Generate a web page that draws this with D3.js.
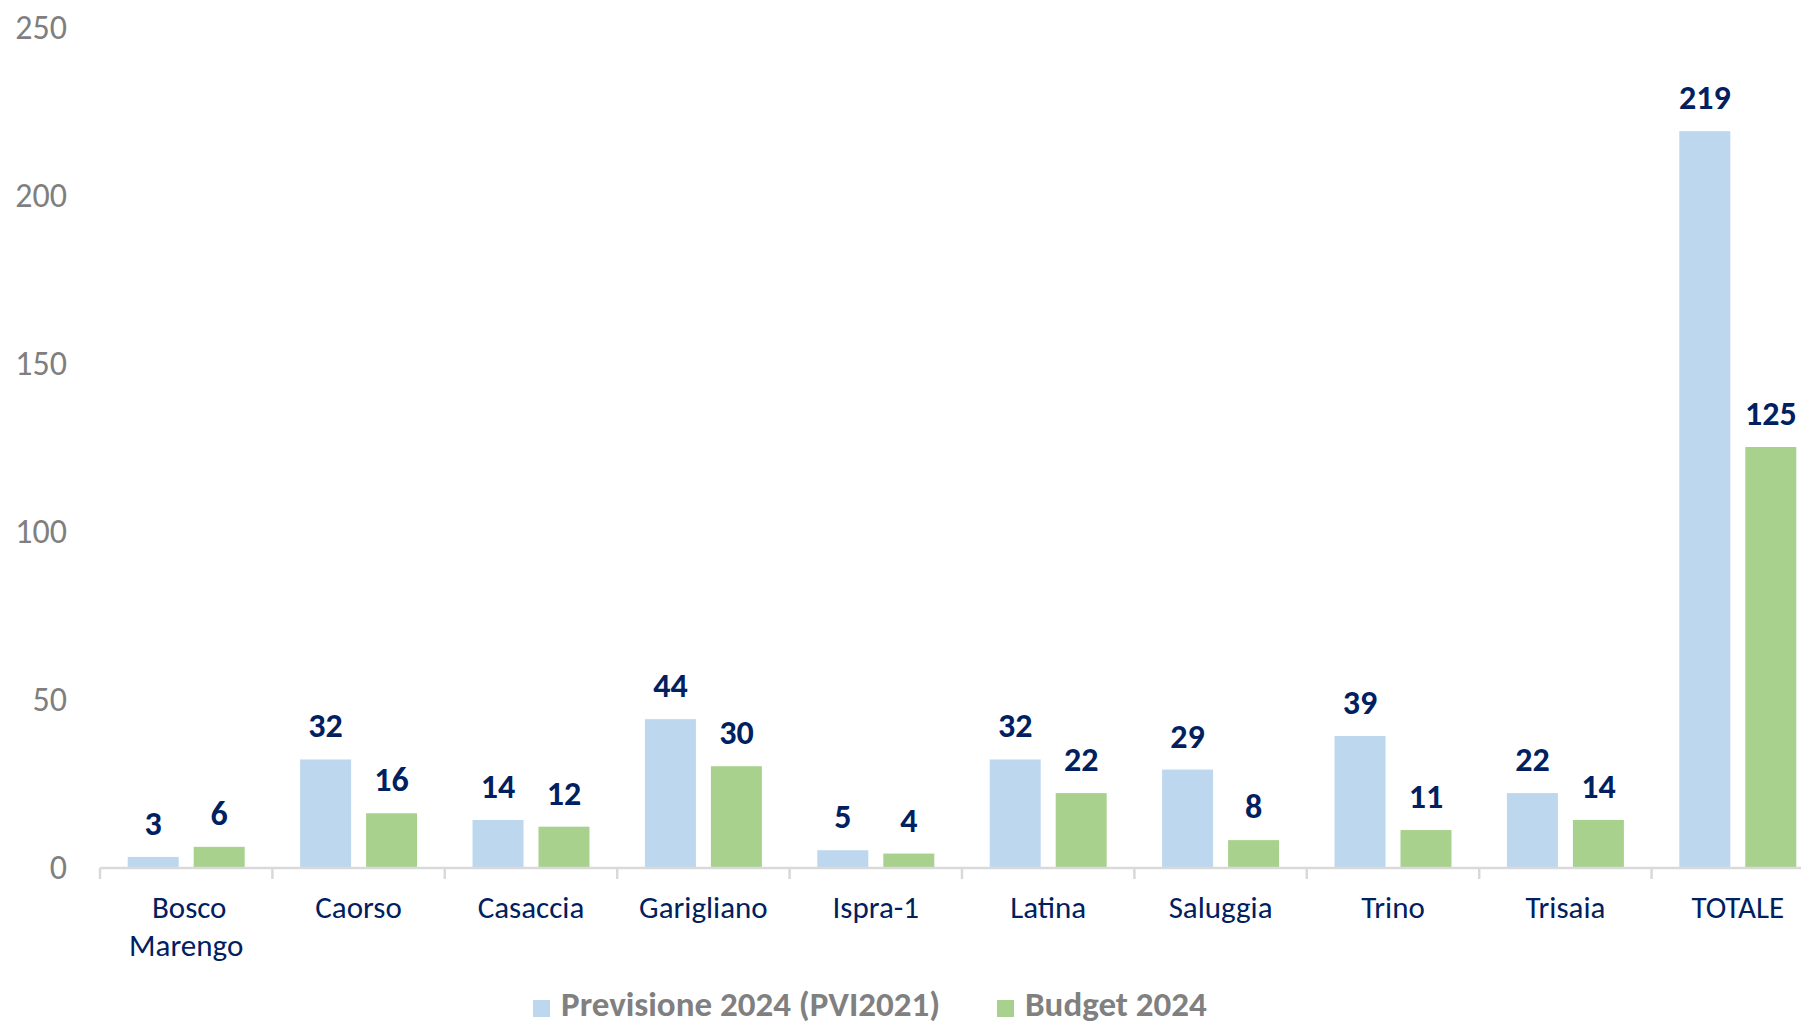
<!DOCTYPE html>
<html>
<head>
<meta charset="utf-8">
<script src="https://cdn.jsdelivr.net/npm/d3@7"></script>
<style>
  html, body { margin: 0; padding: 0; background: #fff; overflow: hidden; }
  svg { display: block; font-family: Carlito, Calibri, Lato, sans-serif; }
</style>
</head>
<body>
<div id="chart"></div>
<script>
var categories = ['Bosco Marengo', 'Caorso', 'Casaccia', 'Garigliano', 'Ispra-1', 'Latina', 'Saluggia', 'Trino', 'Trisaia', 'TOTALE'];
var previsione = [3, 32, 14, 44, 5, 32, 29, 39, 22, 219];
var budget = [6, 16, 12, 30, 4, 22, 8, 11, 14, 125];
var seriesNames = ['Previsione 2024 (PVI2021)', 'Budget 2024'];
var yTicks = [0, 50, 100, 150, 200, 250];

var width = 1801, height = 1025;
var colors = ['#bdd7ee', '#a9d18e'];
var navy = '#002060';

var svg = d3.select('#chart').append('svg')
    .attr('width', width)
    .attr('height', height);

// plot runs off the right edge like the original
var x = d3.scaleBand()
    .domain(categories)
    .range([100, 100 + 172.4 * categories.length])
    .paddingInner(0)
    .paddingOuter(0);

var xSub = d3.scaleBand()
    .domain([0, 1])
    .range([0, x.bandwidth()])
    .paddingInner(0.227)
    .paddingOuter(0.42);

var y = d3.scaleLinear()
    .domain([0, 250])
    .range([867, 27]);

// y tick labels (no axis line)
svg.append('g')
    .selectAll('text')
    .data(yTicks)
    .enter().append('text')
    .attr('x', 67)
    .attr('y', function (d) { return y(d); })
    .attr('dy', '0.35em')
    .attr('text-anchor', 'end')
    .attr('font-size', '34px')
    .attr('fill', '#7f7f7f')
    .text(function (d) { return d; });

// bars
var groups = svg.append('g').selectAll('g')
    .data(categories)
    .enter().append('g')
    .attr('transform', function (d) { return 'translate(' + x(d) + ',0)'; });

[previsione, budget].forEach(function (series, s) {
    groups.append('rect')
        .attr('x', xSub(s))
        .attr('width', xSub.bandwidth())
        .attr('y', function (d, i) { return y(series[i]); })
        .attr('height', function (d, i) { return y(0) - y(series[i]); })
        .attr('fill', colors[s]);

    groups.append('text')
        .attr('x', xSub(s) + xSub.bandwidth() / 2)
        .attr('y', function (d, i) { return y(series[i]) - 22; })
        .attr('text-anchor', 'middle')
        .attr('font-size', '34px')
        .attr('font-weight', 'bold')
        .attr('fill', navy)
        .text(function (d, i) { return series[i]; });
});

// x axis
var xAxis = svg.append('g');
xAxis.append('line')
    .attr('x1', x.range()[0]).attr('x2', x.range()[1])
    .attr('y1', 868).attr('y2', 868)
    .attr('stroke', '#d9d9d9')
    .attr('stroke-width', 2.5);

xAxis.selectAll('.tick')
    .data(categories.concat(['end']))
    .enter().append('line')
    .attr('x1', function (d, i) { return x.range()[0] + i * x.step(); })
    .attr('x2', function (d, i) { return x.range()[0] + i * x.step(); })
    .attr('y1', 868).attr('y2', 879)
    .attr('stroke', '#d9d9d9')
    .attr('stroke-width', 2.5);

// category labels, wrap on space for the long one
xAxis.selectAll('.cat')
    .data(categories)
    .enter().append('text')
    .attr('class', 'cat')
    .attr('text-anchor', 'middle')
    .attr('font-size', '31px')
    .attr('fill', navy)
    .each(function (d) {
        var lines = d === 'Bosco Marengo' ? ['Bosco', 'Marengo'] : [d];
        var t = d3.select(this);
        lines.forEach(function (l, k) {
            t.append('tspan')
                .attr('x', x(d) + x.bandwidth() / 2 + (k === 0 && lines.length > 1 ? 3 : 0))
                .attr('y', 918 + k * 38)
                .text(l);
        });
    });

// legend at the bottom edge
var legend = svg.append('g');
var legendX = [533, 997];
seriesNames.forEach(function (name, s) {
    var g = legend.append('g')
        .attr('transform', 'translate(' + legendX[s] + ',1016)');
    g.append('rect')
        .attr('x', 0).attr('y', -16)
        .attr('width', 17).attr('height', 17)
        .attr('fill', colors[s]);
    g.append('text')
        .attr('x', 28).attr('y', 0)
        .attr('font-size', '35px')
        .attr('font-weight', 'bold')
        .attr('fill', '#808080')
        .text(name);
});
</script>
</body>
</html>
